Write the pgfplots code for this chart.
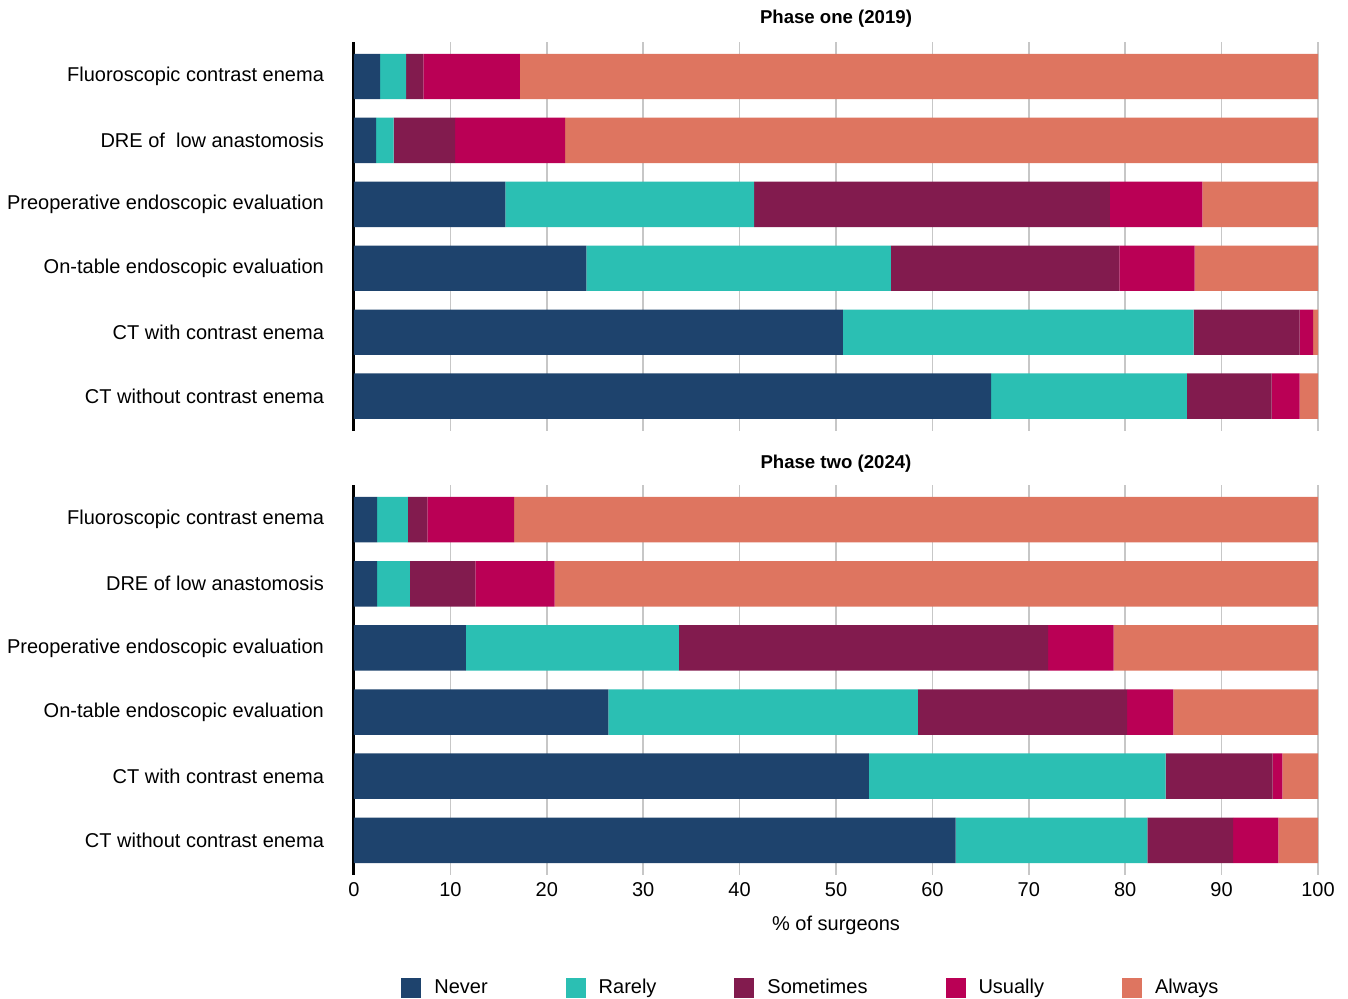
\documentclass[border=0pt]{standalone}
\usepackage{pgfplots}
\pgfplotsset{compat=1.18}
\usepackage{pgfplotstable}
\usepackage{fontspec}
\setmainfont{Liberation Sans}
\definecolor{cnever}{HTML}{1E436D}
\definecolor{crarely}{HTML}{2BBFB3}
\definecolor{csometimes}{HTML}{821B4E}
\definecolor{cusually}{HTML}{BA0055}
\definecolor{calways}{HTML}{DE7560}

% y: 0 = CT without (bottom) ... 5 = Fluoroscopic (top)
\pgfplotstableread{
y never rarely sometimes usually always
0 66.1 20.3 8.8 2.9 1.9
1 50.7 36.4 11.0 1.4 0.5
2 24.1 31.6 23.7 7.8 12.8
3 15.7 25.8 36.9 9.6 12.0
4 2.3 1.8 6.4 11.4 78.1
5 2.7 2.7 1.8 10.0 82.8
}\phaseone

\pgfplotstableread{
y never rarely sometimes usually always
0 62.4 19.9 8.9 4.7 4.1
1 53.4 30.8 11.1 1.0 3.7
2 26.4 32.1 21.7 4.8 15.0
3 11.6 22.1 38.3 6.8 21.2
4 2.4 3.4 6.8 8.2 79.2
5 2.4 3.2 2.0 9.0 83.4
}\phasetwo

\pgfplotsset{
  sqleg/.style={legend image code/.code={\fill[##1] (0pt,-5pt) rectangle (10pt,5pt);}},
  common/.style={
    width=482pt, scale only axis,
    xmin=0, xmax=100, ymin=-0.54, ymax=5.54,
    xtick={0,10,...,100}, ytick={0,1,2,3,4,5},
    xmajorgrids, grid style={color=black!22, line width=0.75pt},
    major tick length=0pt,
    axis lines*=left,
    x axis line style={draw=none},
    y axis line style={line width=1.5pt, black},
    tick label style={font=\fontsize{10}{12}\selectfont},
    yticklabel style={anchor=east, xshift=-11.5pt},
    /pgf/number format/assume math mode=true,
    xbar stacked, bar width=0.71,
    title style={at={(0.5,1)}, anchor=center, font=\bfseries\fontsize{9.3}{11}\selectfont},
  },
}

\begin{document}
\begin{tikzpicture}
\useasboundingbox (-177pt,-62pt) rectangle (497pt,437.5pt);
\begin{axis}[common, at={(0pt,222.15pt)}, anchor=south west, height=194.35pt,
  title={Phase one (2019)}, title style={yshift=5.5pt},
  xticklabels={},
  yticklabels={CT without contrast enema, CT with contrast enema, On-table endoscopic evaluation, Preoperative endoscopic evaluation, DRE of\ \ low anastomosis, Fluoroscopic contrast enema}]
\addplot[fill=cnever, draw=none] table[x=never, y=y] {\phaseone};
\addplot[fill=crarely, draw=none] table[x=rarely, y=y] {\phaseone};
\addplot[fill=csometimes, draw=none] table[x=sometimes, y=y] {\phaseone};
\addplot[fill=cusually, draw=none] table[x=usually, y=y] {\phaseone};
\addplot[fill=calways, draw=none] table[x=always, y=y] {\phaseone};
\end{axis}
\begin{axis}[common, at={(0pt,0pt)}, anchor=south west, height=195pt,
  title={Phase two (2024)}, title style={yshift=4.5pt},
  yticklabels={CT without contrast enema, CT with contrast enema, On-table endoscopic evaluation, Preoperative endoscopic evaluation, DRE of low anastomosis, Fluoroscopic contrast enema},
  xlabel={\% of surgeons},
  xlabel style={at={(axis description cs:0.5,0)}, anchor=center, yshift=-25pt, font=\fontsize{10}{12}\selectfont},
  legend style={at={(0.475,-0.29)}, anchor=center, draw=none, fill=none,
    legend columns=5, font=\fontsize{10}{12}\selectfont,
    /tikz/every odd column/.append style={column sep=4.5pt},
    /tikz/every even column/.append style={column sep=37pt}},
  ]
\addplot[fill=cnever, draw=none, sqleg] table[x=never, y=y] {\phasetwo};
\addplot[fill=crarely, draw=none, sqleg] table[x=rarely, y=y] {\phasetwo};
\addplot[fill=csometimes, draw=none, sqleg] table[x=sometimes, y=y] {\phasetwo};
\addplot[fill=cusually, draw=none, sqleg] table[x=usually, y=y] {\phasetwo};
\addplot[fill=calways, draw=none, sqleg] table[x=always, y=y] {\phasetwo};
\legend{Never, Rarely, Sometimes, Usually, Always}
\end{axis}
\end{tikzpicture}
\end{document}
